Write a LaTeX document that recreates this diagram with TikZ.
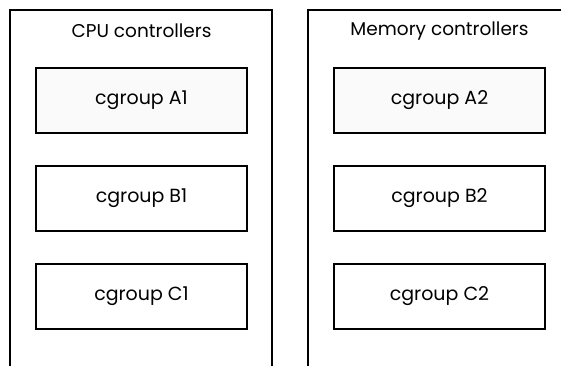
\documentclass[tikz,border=0pt]{standalone}
\usepackage{fontspec}
\setmainfont{Poppins}
\begin{document}
\begin{tikzpicture}[x=1pt,y=-1pt,
  wall/.style={line width=2pt,line cap=butt},
  cg/.style={draw,line width=2pt,minimum width=211pt,minimum height=65pt,inner sep=0pt,font=\fontsize{19}{21}\selectfont},
  cgA/.style={cg,fill=black!2},
  ttl/.style={font=\fontsize{18.5}{20}\selectfont,inner sep=0pt}]
\useasboundingbox (0,0) rectangle (561,365);
\draw[wall] (10,366) -- (10,10) -- (272,10) -- (272,366);
\draw[wall] (308,366) -- (308,10) -- (562,10);
\node[ttl] (t1) at (141.5,31) {CPU controllers};
\node[ttl] (t2) at (439.5,31) {Memory controllers};
\node[cgA] (a1) at (141.5,100.5) {cgroup A1};
\node[cg] (b1) at (141.5,198.5) {cgroup B1};
\node[cg] (c1) at (141.5,296.5) {cgroup C1};
\node[cgA] (a2) at (439.5,100.5) {cgroup A2};
\node[cg] (b2) at (439.5,198.5) {cgroup B2};
\node[cg] (c2) at (439.5,296.5) {cgroup C2};
\end{tikzpicture}
\end{document}
